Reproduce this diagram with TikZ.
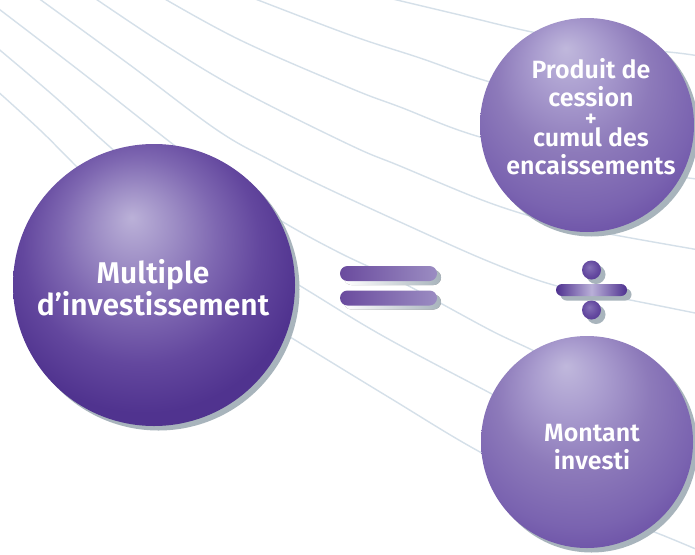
\documentclass[tikz,border=0pt]{standalone}
\usepackage{fontspec}
\newfontfamily\lblfont{Fira Sans}[UprightFont={* SemiBold}]
\usetikzlibrary{shadows}
\definecolor{bgl}{HTML}{D5E0E9}
\definecolor{shd}{HTML}{A8B4BC}
\definecolor{bA}{HTML}{BBB1D8}
\definecolor{bB}{HTML}{9D8DC5}
\definecolor{bC}{HTML}{7E67B1}
\definecolor{bD}{HTML}{63479E}
\definecolor{bE}{HTML}{50338F}
\definecolor{bF}{HTML}{4A2E88}
\definecolor{sA}{HTML}{C0B8DC}
\definecolor{sB}{HTML}{AA9DCF}
\definecolor{sC}{HTML}{8D7ABA}
\definecolor{sD}{HTML}{7A63B0}
\definecolor{sE}{HTML}{6548A2}
\definecolor{sF}{HTML}{583996}
\definecolor{sG}{HTML}{553695}
\definecolor{eqL}{HTML}{6A4B9E}
\definecolor{eqR}{HTML}{9B8CC2}
\definecolor{dvD}{HTML}{4E3190}
\definecolor{dvL}{HTML}{BAB0D8}
\definecolor{dtA}{HTML}{8570B7}
\definecolor{dtB}{HTML}{654AA0}
\definecolor{dtC}{HTML}{4C2F8E}
\pgfdeclareradialshading{sphbig}{\pgfpoint{-4bp}{12bp}}{color(0bp)=(bA); color(7bp)=(bB); color(14bp)=(bC); color(21bp)=(bD); color(28bp)=(bE); color(50bp)=(bF)}
\pgfdeclareradialshading{sphsm}{\pgfpoint{-5bp}{18bp}}{color(0bp)=(sA); color(8bp)=(sB); color(18bp)=(sC); color(28bp)=(sD); color(36bp)=(sE); color(44bp)=(sF); color(50bp)=(sG)}
\pgfdeclareradialshading{dotsh}{\pgfpoint{-6bp}{8bp}}{color(0bp)=(dtA); color(20bp)=(dtB); color(40bp)=(dtC); color(50bp)=(dtC)}
\pgfdeclarehorizontalshading{divsh}{100bp}{color(0bp)=(dvD); color(25bp)=(dvD); color(50bp)=(dvL); color(75bp)=(dvD); color(100bp)=(dvD)}
\tikzset{
  bgline/.style={draw=bgl, line width=1.4pt},
  sphshadow/.style={drop shadow={shadow xshift=4.5pt, shadow yshift=-4.5pt, fill=shd, opacity=1}},
  sphbigst/.style={circle, inner sep=0pt, shading=sphbig, sphshadow},
  sphsmst/.style={circle, inner sep=0pt, shading=sphsm, sphshadow},
  lbl/.style={text=white, align=center, inner sep=0pt},
  eqbar/.style={rectangle, rounded corners=7.5pt, inner sep=0pt, minimum width=97pt, minimum height=15pt, left color=eqL, right color=eqR,
     drop shadow={shadow xshift=4pt, shadow yshift=-4pt, left color=white, right color=shd, opacity=1}},
  divbar/.style={rectangle, rounded corners=6pt, inner sep=0pt, minimum width=71pt, minimum height=12pt, shading=divsh, sphshadow},
  divdot/.style={circle, inner sep=0pt, minimum size=19pt, shading=dotsh, sphshadow}
}
\begin{document}
\begin{tikzpicture}[x=1pt, y=-1pt]
\useasboundingbox (0,0) rectangle (695,554);
\fill[white] (0,0) rectangle (695,554);
\begin{scope}
\clip (0,0) rectangle (695,554);
\draw[bgline] plot[smooth, tension=0.6] coordinates {(380,-4) (460,15) (532,32) (610,46) (678,53) (705,57)};
\draw[bgline] plot[smooth, tension=0.6] coordinates {(245,-5) (350,35) (420,58) (490,82) (600,110) (705,126)};
\draw[bgline] plot[smooth, tension=0.6] coordinates {(158,-5) (240,40) (350,88) (400,107) (480,137) (600,165) (705,180)};
\draw[bgline] plot[smooth, tension=0.6] coordinates {(90,-5) (165,45) (240,90) (350,145) (400,166) (490,203) (560,224) (620,236) (705,251)};
\draw[bgline] plot[smooth, tension=0.6] coordinates {(34,-5) (130,65) (217,130) (270,160) (320,185) (400,222) (490,262) (557,286) (625,299) (705,315)};
\draw[bgline] plot[smooth, tension=0.6] coordinates {(-5,6) (85,75) (170,142) (230,188) (283,222) (340,253) (403,283) (490,330) (545,357) (600,395)};
\draw[bgline] plot[smooth, tension=0.6] coordinates {(-5,46) (55,97) (110,147) (200,225) (302,287) (383,336) (490,393) (560,430)};
\draw[bgline] plot[smooth, tension=0.6] coordinates {(-5,89) (40,130) (77,167) (180,270) (295,340) (390,398) (480,452) (580,502) (667,537) (705,553)};
\end{scope}
\node[sphbigst, minimum size=282pt] (mult) at (154,285) {};
\node[sphsmst, minimum size=214pt] (prod) at (587,125) {};
\node[sphsmst, minimum size=212pt] (mont) at (587,442) {};
\node[eqbar] (eqA) at (388.5,273.5) {};
\node[eqbar] (eqB) at (388.5,298) {};
\node[divdot] (dotA) at (591.5,270) {};
\node[divbar] (divB) at (591.5,290) {};
\node[divdot] (dotC) at (591.5,310) {};
\node[lbl, font=\lblfont\fontsize{30pt}{27pt}\selectfont] (tmult) at (153,287.5) {Multiple\\d’investissement};
\node[lbl, font=\lblfont\fontsize{25pt}{28pt}\selectfont] (tprod) at (591,82.5) {Produit de\\cession};
\node[lbl, font=\lblfont\fontsize{23pt}{23pt}\selectfont, anchor=base] (tplus) at (591,126) {+};
\node[lbl, font=\lblfont\fontsize{25pt}{28pt}\selectfont] (tcum) at (591,151) {cumul des\\encaissements};
\node[lbl, font=\lblfont\fontsize{25pt}{28pt}\selectfont] (tmont) at (592,447.5) {Montant\\investi};
\end{tikzpicture}
\end{document}
